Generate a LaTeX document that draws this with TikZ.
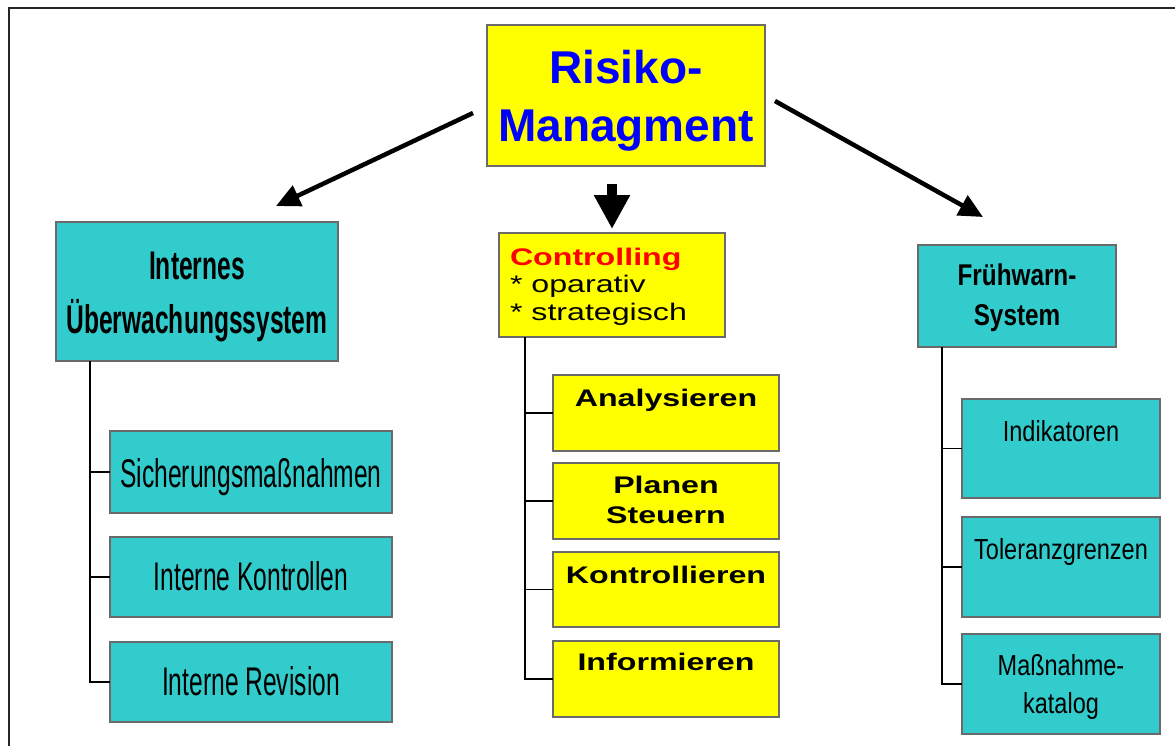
\documentclass[tikz,border=0pt]{standalone}
\usepackage{fontspec}
\setmainfont{Liberation Sans}
\newfontfamily\narrowsans[FakeStretch=0.615]{Liberation Sans}
\newfontfamily\condsans[FakeStretch=0.81]{Liberation Sans}
\newfontfamily\widesans[FakeStretch=1.34]{Liberation Sans}
\usetikzlibrary{arrows.meta}

\definecolor{tealfill}{HTML}{33CCCC}
\definecolor{yellowfill}{HTML}{FFFF00}
\definecolor{boxgray}{HTML}{6A6A6A}
\definecolor{titleblue}{HTML}{0000FF}

% centred and left aligned line stacks whose baseline is the first line
\newcommand\stackc[1]{\vtop{\halign{\hfil##\hfil\cr#1\crcr}}}
\newcommand\stackl[1]{\vtop{\halign{##\hfil\cr#1\crcr}}}

\tikzset{
  box/.style={draw=boxgray, line width=1.5pt, inner sep=0pt, outer sep=0pt, anchor=north west},
  tealbox/.style={box, fill=tealfill},
  yellowbox/.style={box, fill=yellowfill},
  txt/.style={inner sep=0pt, outer sep=0pt, anchor=base},
  tree/.style={draw=black, line width=1.7pt},
  bigarrow/.style={draw=black, line width=4.5pt, -{Triangle[length=24pt,width=22pt]}},
  blockarrow/.style={draw=black, line width=10pt, -{Triangle[length=34pt,width=34pt]}},
  frame/.style={draw=black!85, line width=1.6pt}
}

\begin{document}
\begin{tikzpicture}[x=1pt,y=-1pt]
  \useasboundingbox (0,0) rectangle (1175,745);
  \clip (0,0) rectangle (1175,745);

  % outer frame
  \draw[frame] (9,8) rectangle (1200,770);

  % boxes
  \node[yellowbox, minimum width=278, minimum height=141] (risk) at (487,25) {};

  \node[tealbox, minimum width=282, minimum height=139] (intern) at (56,222) {};
  \node[tealbox, minimum width=282, minimum height=82] (sich) at (110,431) {};
  \node[tealbox, minimum width=282, minimum height=80] (kontr) at (110,537) {};
  \node[tealbox, minimum width=282, minimum height=80] (revis) at (110,642) {};

  \node[yellowbox, minimum width=226, minimum height=104] (contr) at (499,233) {};
  \node[yellowbox, minimum width=226, minimum height=76] (analy) at (553,375) {};
  \node[yellowbox, minimum width=226, minimum height=76] (plan) at (553,463) {};
  \node[yellowbox, minimum width=226, minimum height=75] (kontl) at (553,552) {};
  \node[yellowbox, minimum width=226, minimum height=76] (infor) at (553,641) {};

  \node[tealbox, minimum width=198, minimum height=102] (frueh) at (918,245) {};
  \node[tealbox, minimum width=198, minimum height=99] (indik) at (962,399) {};
  \node[tealbox, minimum width=198, minimum height=100] (toler) at (962,517) {};
  \node[tealbox, minimum width=198, minimum height=100] (massn) at (962,634) {};

  % tree connectors
  \draw[tree] ([xshift=34pt]intern.south west) |- (sich.west);
  \draw[tree] ([xshift=34pt]intern.south west) |- (kontr.west);
  \draw[tree] ([xshift=34pt]intern.south west) |- (revis.west);

  \draw[tree] ([xshift=26pt]contr.south west) |- (analy.west);
  \draw[tree] ([xshift=26pt]contr.south west) |- (plan.west);
  \draw[tree] ([xshift=26pt]contr.south west) |- (kontl.west);
  \draw[tree] ([xshift=26pt]contr.south west) |- (infor.west);

  \draw[tree] ([xshift=24pt]frueh.south west) |- (indik.west);
  \draw[tree] ([xshift=24pt]frueh.south west) |- (toler.west);
  \draw[tree] ([xshift=24pt]frueh.south west) |- (massn.west);

  % arrows from the top box
  \coordinate (lstart) at (473,113);
  \coordinate (lend) at (276,206);
  \coordinate (rstart) at (775,101);
  \coordinate (rend) at (983,217);
  \coordinate (mstart) at (612,184);
  \coordinate (mend) at (612,229);
  \draw[bigarrow] (lstart) -- (lend);
  \draw[bigarrow] (rstart) -- (rend);
  \draw[blockarrow] (mstart) -- (mend);

  % texts
  \node[txt, font=\fontsize{46}{58}\selectfont\bfseries, text=titleblue] (risk-t) at (626,83)
    {\stackc{Risiko-\cr Managment}};

  \node[txt, font=\narrowsans\fontsize{40}{54}\selectfont\bfseries] (intern-t) at (197,279)
    {\stackc{Internes\cr Überwachungssystem}};
  \node[txt, font=\narrowsans\fontsize{40}{48}\selectfont] (sich-t) at (251,487) {Sicherungsmaßnahmen};
  \node[txt, font=\narrowsans\fontsize{40}{48}\selectfont] (kontr-t) at (251,590) {Interne Kontrollen};
  \node[txt, font=\narrowsans\fontsize{40}{48}\selectfont] (revis-t) at (251,695) {Interne Revision};

  \node[txt, anchor=base west, font=\widesans\fontsize{24}{27.5}\selectfont] (contr-t) at (510,265)
    {\stackl{\bfseries\color{red}Controlling\cr * oparativ\cr * strategisch}};
  \node[txt, font=\widesans\fontsize{24}{30}\selectfont\bfseries] (analy-t) at (666,406) {Analysieren};
  \node[txt, font=\widesans\fontsize{24}{30}\selectfont\bfseries] (plan-t) at (666,493)
    {\stackc{Planen\cr Steuern}};
  \node[txt, font=\widesans\fontsize{24}{30}\selectfont\bfseries] (kontl-t) at (666,583) {Kontrollieren};
  \node[txt, font=\widesans\fontsize{24}{30}\selectfont\bfseries] (infor-t) at (666,670) {Informieren};

  \node[txt, font=\condsans\fontsize{30}{40}\selectfont\bfseries] (frueh-t) at (1017,285)
    {\stackc{Frühwarn-\cr System}};
  \node[txt, font=\condsans\fontsize{29}{38}\selectfont] (indik-t) at (1061,441) {Indikatoren};
  \node[txt, font=\condsans\fontsize{29}{38}\selectfont] (toler-t) at (1061,559) {Toleranzgrenzen};
  \node[txt, font=\condsans\fontsize{29}{38}\selectfont] (massn-t) at (1061,675)
    {\stackc{Maßnahme-\cr katalog}};
\end{tikzpicture}
\end{document}
